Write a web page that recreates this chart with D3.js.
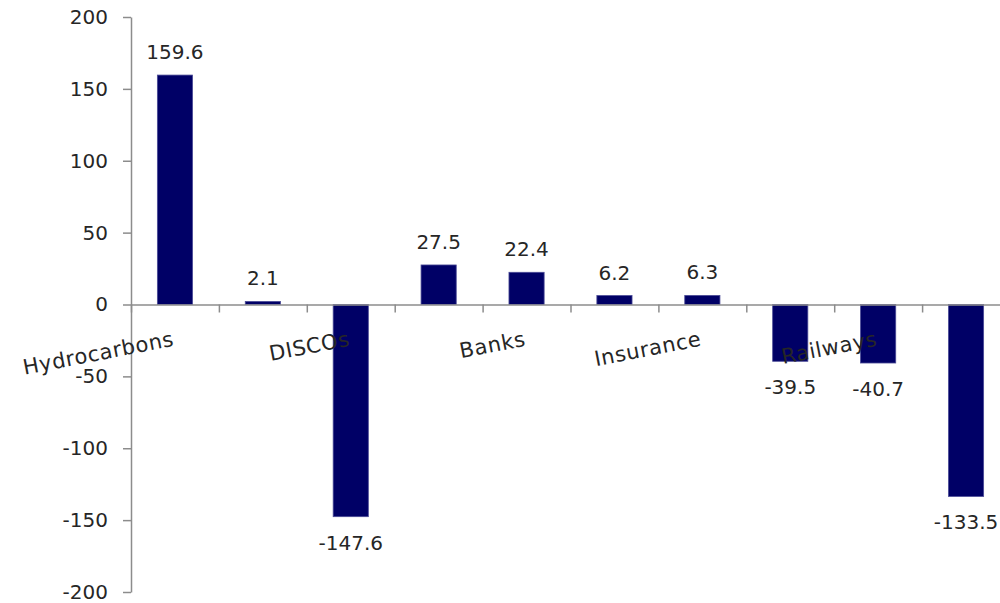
<!DOCTYPE html>
<html>
<head>
<meta charset="utf-8">
<script src="https://cdn.jsdelivr.net/npm/d3@7"></script>
<style>
  body { margin: 0; background: #fff; }
  svg { display: block; }
  text { font-family: "DejaVu Sans", Verdana, sans-serif; fill: #262626; }
</style>
</head>
<body>
<div id="chart"></div>
<script>
// chart data
var values = [159.6, 2.1, -147.6, 27.5, 22.4, 6.2, 6.3, -39.5, -40.7, -133.5];
var categories = ["Hydrocarbons", "DISCOs", "Banks", "Insurance", "Railways"]; // shown on every other bar
var yTicks = [-200, -150, -100, -50, 0, 50, 100, 150, 200];

var width = 1000, height = 603;
var plotLeft = 131, plotRight = 1010, plotTop = 17, plotBottom = 592;

var svg = d3.select("#chart")
  .append("svg")
    .attr("width", width)
    .attr("height", height);

// scales
var x = d3.scaleBand()
  .domain(d3.range(values.length))
  .range([plotLeft, plotRight])
  .paddingInner(0.6)
  .paddingOuter(0.3);

var xTicks = d3.scaleLinear()
  .domain([0, values.length])
  .range([plotLeft, plotRight]);

var y = d3.scaleLinear()
  .domain([-200, 200])
  .range([plotBottom, plotTop]);

// y axis (plain hyphen for negatives, like the original)
var yAxis = svg.append("g")
  .attr("transform", "translate(" + plotLeft + ",0)")
  .call(d3.axisLeft(y).tickValues(yTicks).tickFormat(function(d) { return String(d); })
    .tickSize(8).tickSizeOuter(0).tickPadding(15));
yAxis.selectAll("text").style("font-size", "20px").style("fill", "#262626");
yAxis.selectAll("line, path").attr("stroke", "#8c8c8c").attr("stroke-width", 1.5);

// bars
svg.append("g")
  .selectAll("rect")
  .data(values)
  .enter().append("rect")
    .attr("x", function(d, i) { return x(i); })
    .attr("y", function(d) { return y(Math.max(0, d)); })
    .attr("width", x.bandwidth())
    .attr("height", function(d) { return Math.abs(y(d) - y(0)); })
    .attr("fill", "#000066")
    .attr("stroke", "#4a4a96")
    .attr("stroke-width", 0.8);

// x axis along zero
var xAxis = svg.append("g")
  .attr("transform", "translate(0," + y(0) + ")")
  .call(d3.axisBottom(xTicks).tickValues(d3.range(values.length + 1)).tickFormat("").tickSize(8).tickSizeOuter(0));
xAxis.selectAll("line, path").attr("stroke", "#8c8c8c").attr("stroke-width", 1.5);

// value labels
svg.append("g")
  .selectAll("text")
  .data(values)
  .enter().append("text")
    .attr("x", function(d, i) { return x(i) + x.bandwidth() / 2; })
    .attr("y", function(d) { return d >= 0 ? y(d) - 16 : y(d) + 33; })
    .attr("text-anchor", "middle")
    .style("font-size", "20px")
    .text(function(d) { return String(d); });

// category labels, rotated, ending at the bar centre
svg.append("g")
  .selectAll("text")
  .data(categories)
  .enter().append("text")
    .attr("transform", function(d, i) {
      var cx = x(i * 2) + x.bandwidth() / 2;
      return "translate(" + cx + "," + (y(0) + 41) + ") rotate(-11)";
    })
    .attr("text-anchor", "end")
    .style("font-size", "21px")
    .style("letter-spacing", "0.6px")
    .text(function(d) { return d; });
</script>
</body>
</html>
